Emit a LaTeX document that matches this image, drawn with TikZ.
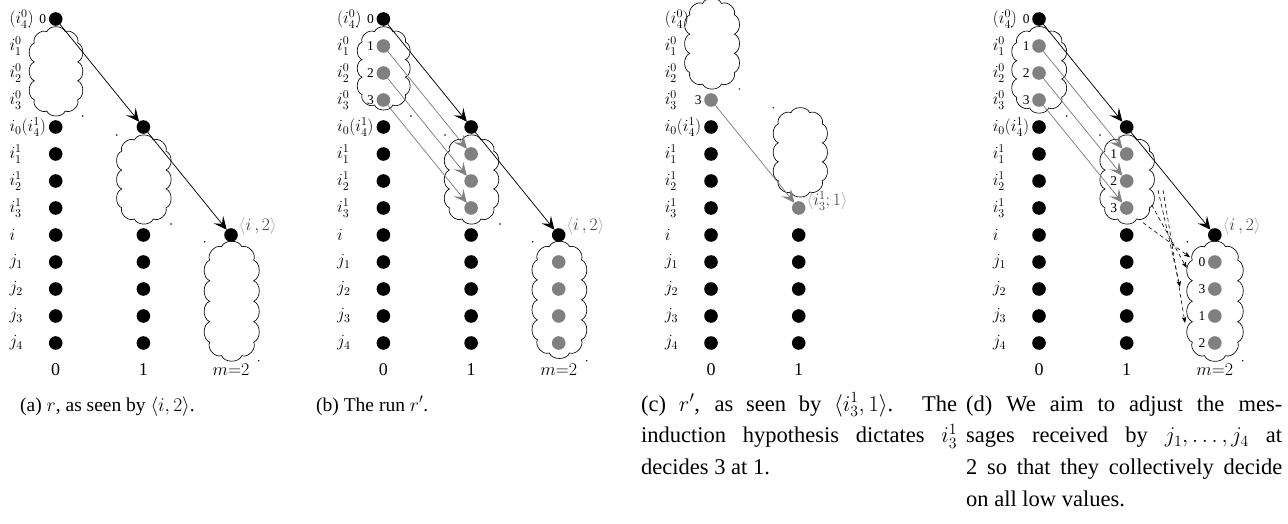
\RequirePackage{fix-cm}
\documentclass[tikz,border=0pt]{standalone}
\usepackage{fontspec}
\setmainfont{Liberation Serif}
\usetikzlibrary{arrows.meta}
\definecolor{dotgray}{gray}{0.5}
\definecolor{brgray}{gray}{0.65}
\newcommand{\capfont}{\fontsize{19.5}{31.7}\selectfont}
\newcommand{\capbigfont}{\fontsize{22.5}{31.7}\selectfont}
\newcommand{\rowlabels}[1]{%
  \foreach \r/\lab in {0/{(i_4^0)},1/{i_1^0},2/{i_2^0},3/{i_3^0},4/{i_0(i_4^1)},5/{i_1^1},6/{i_2^1},7/{i_3^1},8/{i},9/{j_1},10/{j_2},11/{j_3},12/{j_4}}
    \node[rowlab] (#1-l\r) at (9.3,{19+27*\r}) {$\lab$};}
% puff templates (normalised corner points, clockwise on screen)
\def\tmplA{1/-0.717, 1/-0.239, 1/0.239, 1/0.717, 0.425/1, -0.425/1, -1/0.717, -1/0.239, -1/-0.239, -1/-0.717, -0.425/-1, 0.425/-1}
\def\tmplB{1/-0.752, 1/-0.376, 1/0, 1/0.376, 1/0.752, 0.46/1, -0.46/1, -1/0.752, -1/0.376, -1/0, -1/-0.376, -1/-0.752, -0.46/-1, 0.46/-1}
% #1 name, #2 x1, #3 y1, #4 x2, #5 y2, #6 template, #7 first point u, #8 first point v
\newcommand{\puffcloud}[8]{%
  \coordinate (#1) at ({(#2+#4)/2},{(#3+#5)/2});
  \pgfmathsetmacro\clX{(#2+#4)/2}\pgfmathsetmacro\clY{(#3+#5)/2}%
  \pgfmathsetmacro\clA{(#4-#2)/2-5}\pgfmathsetmacro\clB{(#5-#3)/2-5}%
  \draw[cloudline] ({\clX+(#7)*\clA},{\clY+(#8)*\clB})
    \foreach \u/\v in #6 { to[bend left=68] ({\clX+(\u)*\clA},{\clY+(\v)*\clB}) };}
\begin{document}
\begin{tikzpicture}[x=1pt,y=-1pt,
  dot/.style={circle,fill=black,inner sep=0pt,minimum size=13.6pt,outer sep=0pt},
  gdot/.style={dot,fill=dotgray},
  rowlab/.style={anchor=west,inner sep=0pt,font=\fontsize{17}{19}\selectfont},
  num/.style={anchor=east,inner sep=0pt,font=\fontsize{13.5}{15}\selectfont},
  collab/.style={inner sep=0pt,font=\fontsize{18}{20}\selectfont},
  lab/.style={anchor=west,inner sep=0pt,text=black!75,font=\fontsize{17.5}{19}\selectfont},
  cloudline/.style={draw,line width=0.65pt,line join=miter},
  arr/.style={-{Stealth[length=13pt,width=12pt,inset=5.5pt]},line width=0.75pt},
  garr/.style={arr,draw=dotgray},
  dsh/.style={-{Stealth[length=6pt,width=4.5pt,inset=1.5pt]},dash pattern=on 4pt off 3pt,line width=0.6pt},
  captext/.style={anchor=base west,inner sep=0pt,font=\capfont}]
\useasboundingbox (0,0) rectangle (1288,524);

% ---------------- panel (a)
\begin{scope}
\rowlabels{a}
\node[dot] (a-0-0) at (55.7,19) {};
\node[num] (a-n0) at ([xshift=-2.5pt]a-0-0.west) {0};
\foreach \r in {4,...,12} \node[dot] (a-0-\r) at (55.7,{19+27*\r}) {};
\node[dot] (a-1-4) at (143.4,127) {};
\foreach \r in {8,...,12} \node[dot] (a-1-\r) at (143.4,{19+27*\r}) {};
\node[dot] (a-2-8) at (231,235) {};
\puffcloud{a-k1}{29.3}{26.7}{82.7}{116}{\tmplA}{0.425}{-1}
\puffcloud{a-k2}{116.7}{135}{171}{224}{\tmplA}{0.425}{-1}
\puffcloud{a-k3}{204.7}{241.7}{258.7}{360.7}{\tmplB}{0.46}{-1}
\foreach \p in {(29.3,26.7),(82.7,116),(116.7,135),(171,224),(204.7,241.7),(258.7,360.7)} \fill \p circle (0.8);
\draw[arr] (a-0-0) -- (a-1-4);
\draw[arr] (a-1-4) -- (a-2-8);
\node[lab] (a-t) at (238.5,226) {{\color{brgray}$\langle$}$i\,,2${\color{brgray}$\rangle$}};
\node[collab] (a-x0) at (55.7,370) {0};
\node[collab] (a-x1) at (143.4,370) {1};
\node[collab] (a-x2) at (231,370) {$m{=}2$};
\end{scope}

% ---------------- panel (b)
\begin{scope}[xshift=327.7pt]
\rowlabels{b}
\node[dot] (b-0-0) at (55.7,19) {};
\node[num] (b-n0) at ([xshift=-2.5pt]b-0-0.west) {0};
\foreach \r in {1,2,3} {\node[gdot] (b-0-\r) at (55.7,{19+27*\r}) {};
  \node[num] (b-n\r) at ([xshift=-2.5pt]b-0-\r.west) {\r};}
\foreach \r in {4,...,12} \node[dot] (b-0-\r) at (55.7,{19+27*\r}) {};
\node[dot] (b-1-4) at (143.4,127) {};
\foreach \r in {5,6,7} \node[gdot] (b-1-\r) at (143.4,{19+27*\r}) {};
\foreach \r in {8,...,12} \node[dot] (b-1-\r) at (143.4,{19+27*\r}) {};
\node[dot] (b-2-8) at (231,235) {};
\foreach \r in {9,...,12} \node[gdot] (b-2-\r) at (231,{19+27*\r}) {};
\puffcloud{b-k1}{29.3}{26.7}{82.7}{110}{\tmplA}{0.425}{-1}
\puffcloud{b-k2}{116.7}{135}{171}{224}{\tmplA}{0.425}{-1}
\puffcloud{b-k3}{204.7}{241.7}{258.7}{358}{\tmplB}{0.46}{-1}
\foreach \p in {(29.3,26.7),(83.3,116),(117.3,135),(172.3,224),(205,241.7),(259,360.7)} \fill \p circle (0.8);
\draw[arr] (b-0-0) -- (b-1-4);
\draw[arr] (b-1-4) -- (b-2-8);
\draw[garr] (b-0-1) -- (b-1-5);
\draw[garr] (b-0-2) -- (b-1-6);
\draw[garr] (b-0-3) -- (b-1-7);
\node[lab] (b-t) at (238.5,226) {{\color{brgray}$\langle$}$i\,,2${\color{brgray}$\rangle$}};
\node[collab] (b-x0) at (55.7,370) {0};
\node[collab] (b-x1) at (143.4,370) {1};
\node[collab] (b-x2) at (231,370) {$m{=}2$};
\end{scope}

% ---------------- panel (c)
\begin{scope}[xshift=655.3pt]
\rowlabels{c}
\node[gdot] (c-0-3) at (55.7,100) {};
\node[num] (c-n3) at ([xshift=-2.5pt]c-0-3.west) {3};
\foreach \r in {4,...,12} \node[dot] (c-0-\r) at (55.7,{19+27*\r}) {};
\node[gdot] (c-1-7) at (143.4,208) {};
\foreach \r in {8,...,12} \node[dot] (c-1-\r) at (143.4,{19+27*\r}) {};
\puffcloud{c-k1}{29.5}{-1.5}{84}{89}{\tmplA}{0.425}{-1}
\puffcloud{c-k2}{118}{107.7}{172}{197}{\tmplA}{0.425}{-1}
\foreach \p in {(84,89),(118,107.7)} \fill \p circle (0.8);
\draw[garr] (c-0-3) -- (c-1-7);
\node[lab] (c-t) at (151,201) {{\color{brgray}$\langle$}$i_3^1;1${\color{brgray}$\rangle$}};
\node[collab] (c-x0) at (55.7,370) {0};
\node[collab] (c-x1) at (143.4,370) {1};
\end{scope}

% ---------------- panel (d)
\begin{scope}[xshift=983.3pt]
\rowlabels{d}
\node[dot] (d-0-0) at (55.7,19) {};
\node[num] (d-n0) at ([xshift=-2.5pt]d-0-0.west) {0};
\foreach \r in {1,2,3} {\node[gdot] (d-0-\r) at (55.7,{19+27*\r}) {};
  \node[num] (d-n\r) at ([xshift=-2.5pt]d-0-\r.west) {\r};}
\foreach \r in {4,...,12} \node[dot] (d-0-\r) at (55.7,{19+27*\r}) {};
\node[dot] (d-1-4) at (143.4,127) {};
\foreach \r/\v in {5/1,6/2,7/3} {\node[gdot] (d-1-\r) at (143.4,{19+27*\r}) {};
  \node[num] (d-m\r) at ([xshift=-2.5pt]d-1-\r.west) {\v};}
\foreach \r in {8,...,12} \node[dot] (d-1-\r) at (143.4,{19+27*\r}) {};
\node[dot] (d-2-8) at (231.5,235) {};
\foreach \r/\v in {9/0,10/3,11/1,12/2} {\node[gdot] (d-2-\r) at (231.5,{19+27*\r}) {};
  \node[num] (d-q\r) at ([xshift=-2.5pt]d-2-\r.west) {\v};}
\puffcloud{d-k1}{28.4}{26.7}{83.4}{113}{\tmplA}{0.425}{-1}
\puffcloud{d-k2}{116.7}{135}{171}{224}{\tmplA}{0.425}{-1}
\puffcloud{d-k3}{204}{241.7}{259.4}{360.7}{\tmplB}{0.46}{-1}
\foreach \p in {(28.4,26.7),(83.4,116),(116.7,135),(204,241.7),(259.4,360.7)} \fill \p circle (0.8);
\draw[arr] (d-0-0) -- (d-1-4);
\draw[arr] (d-1-4) -- (d-2-8);
\draw[garr] (d-0-1) -- (d-1-5);
\draw[garr] (d-0-2) -- (d-1-6);
\draw[garr] (d-0-3) -- (d-1-7);
\coordinate (d-s1) at (159.7,222.7);
\coordinate (d-e1) at (206.7,257.3);
\coordinate (d-s2) at (168.4,205);
\coordinate (d-e2) at (203.4,268);
\coordinate (d-s3) at (174.7,190);
\coordinate (d-e3) at (196.7,287);
\coordinate (d-s4) at (179.7,190);
\coordinate (d-e4) at (201.7,323);
\draw[dsh] (d-s1) -- (d-e1);
\draw[dsh] (d-s2) -- (d-e2);
\draw[dsh] (d-s3) -- (d-e3);
\draw[dsh] (d-s4) -- (d-e4);
\node[lab] (d-t) at (239,226) {{\color{brgray}$\langle$}$i\,,2${\color{brgray}$\rangle$}};
\node[collab] (d-x0) at (55.7,370) {0};
\node[collab] (d-x1) at (143.4,370) {1};
\node[collab] (d-x2) at (231.5,370) {$m{=}2$};
\end{scope}

% ---------------- captions
\node[captext] (capa) at (20,411) {(a) $r$, as seen by $\langle i,2\rangle$.};
\node[captext] (capb) at (316,411) {(b) The run $r'$.};
\node[captext,font=\capbigfont] (capc) at (641,411) {\parbox[t]{316pt}{\capbigfont
  \makebox[316pt][s]{(c) $r'$, as seen by $\langle i^1_3,1\rangle$. The}\\
  \makebox[316pt][s]{induction hypothesis dictates $i^1_3$}\\
  decides 3 at 1.}};
\node[captext,font=\capbigfont] (capd) at (966,411) {\parbox[t]{316pt}{\capbigfont
  \makebox[316pt][s]{(d) We aim to adjust the mes-}\\
  \makebox[316pt][s]{sages received by $j_1,\ldots,j_4$ at}\\
  \makebox[316pt][s]{2 so that they collectively decide}\\
  on all low values.}};
\end{tikzpicture}
\end{document}
